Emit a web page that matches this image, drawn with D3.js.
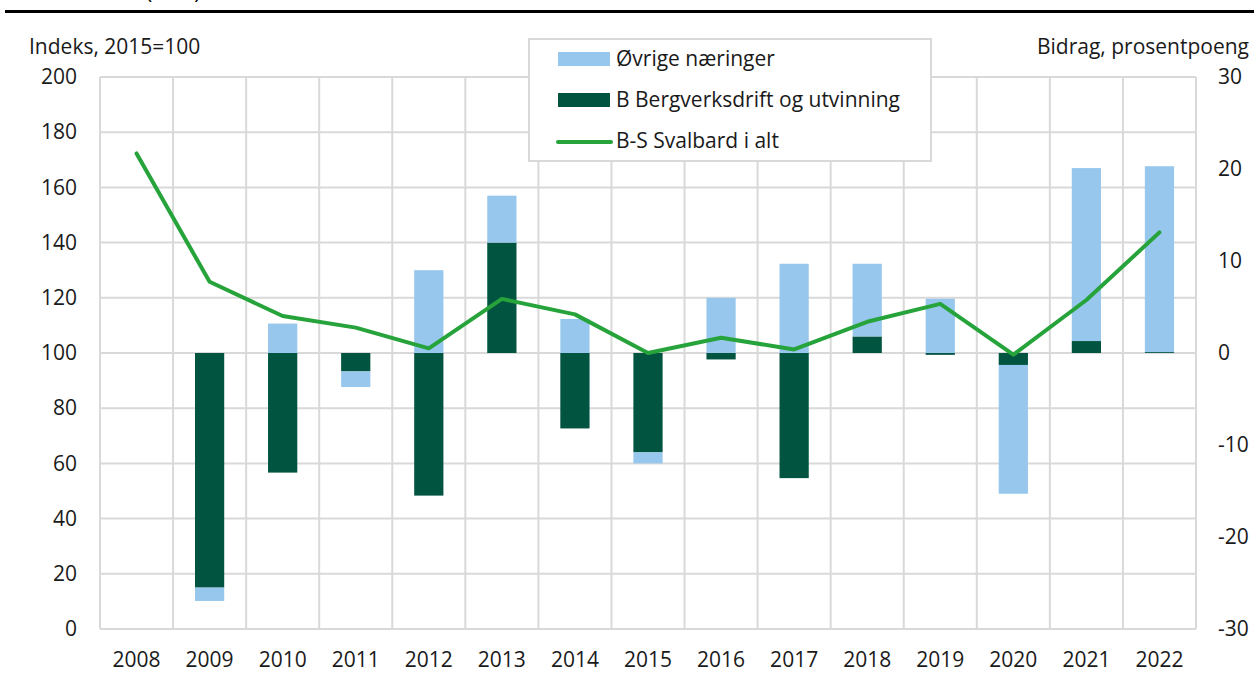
<!DOCTYPE html>
<html>
<head>
<meta charset="utf-8">
<script src="https://cdn.jsdelivr.net/npm/d3@7"></script>
<style>
  body { margin: 0; background: #fff; }
  svg { display: block; font-family: "Open Sans", "Noto Sans", sans-serif; }
</style>
</head>
<body>
<div id="chart"></div>
<script>
const years = ["2008", "2009", "2010", "2011", "2012", "2013", "2014", "2015",
  "2016", "2017", "2018", "2019", "2020", "2021", "2022"];
// bidrag, prosentpoeng (right axis)
const bergverk = [null, -25.5, -13.0, -2.0, -15.5, 12.0, -8.2, -10.8, -0.7, -13.6, 1.8, -0.2, -1.3, 1.3, 0.1];
const ovrige = [null, -1.45, 3.2, -1.7, 9.0, 5.1, 3.7, -1.2, 6.0, 9.7, 7.9, 5.9, -14.0, 18.8, 20.2];
// indeks, 2015=100 (left axis)
const svalbard = [172.3, 125.8, 113.4, 109.2, 101.7, 119.6, 114.0, 100, 105.5, 101.3, 111.3, 117.8, 99.4, 119.2, 143.7];
const leftTicks = [0, 20, 40, 60, 80, 100, 120, 140, 160, 180, 200];
const rightTicks = [-30, -20, -10, 0, 10, 20, 30];

const colLight = "#97c7ec", colDark = "#01543f", colLine = "#26a33a", colGrid = "#d9d9d9";
const fs = 21, txt = "#1a1a1a";

const W = 1254, H = 677;
const plot = { left: 100, right: 1196, top: 77, bottom: 629 };

const svg = d3.select("#chart").append("svg").attr("width", W).attr("height", H);

const xCell = d3.scaleBand().domain(years).range([plot.left, plot.right]).padding(0);
const x = d3.scaleBand().domain(years).range([plot.left, plot.right])
  .paddingInner(0.6).paddingOuter(0.3);
const yL = d3.scaleLinear().domain([0, 200]).range([plot.bottom, plot.top]);
const yR = d3.scaleLinear().domain([-30, 30]).range([plot.bottom, plot.top]);

// cut-off title and rule at the top
svg.append("text").attr("x", 146).attr("y", -1).attr("font-size", fs).text("(BNP)");
svg.append("rect").attr("x", 5).attr("y", 10).attr("width", W - 5).attr("height", 3).attr("fill", "#000");

// grid
const grid = svg.append("g");
grid.selectAll("line.h").data(leftTicks).join("line")
  .attr("x1", plot.left).attr("x2", plot.right)
  .attr("y1", d => yL(d)).attr("y2", d => yL(d))
  .attr("stroke", colGrid).attr("stroke-width", 2);
grid.selectAll("line.v").data(years.concat(["end"])).join("line")
  .attr("x1", (d, i) => plot.left + i * xCell.step()).attr("x2", (d, i) => plot.left + i * xCell.step())
  .attr("y1", plot.top).attr("y2", plot.bottom)
  .attr("stroke", colGrid).attr("stroke-width", 2);

// stacked bars (diverging)
const rows = years.map((y, i) => ({ year: y, berg: bergverk[i] ?? 0, ovr: ovrige[i] ?? 0 }));
const stack = d3.stack().keys(["berg", "ovr"]).offset(d3.stackOffsetDiverging)(rows);
const colors = { berg: colDark, ovr: colLight };
svg.append("g").selectAll("g").data(stack).join("g")
  .attr("fill", s => colors[s.key])
  .selectAll("rect").data(s => s).join("rect")
  .attr("x", d => x(d.data.year))
  .attr("width", x.bandwidth())
  .attr("y", d => yR(Math.max(d[0], d[1])))
  .attr("height", d => Math.abs(yR(d[0]) - yR(d[1])));

// line
svg.append("path").datum(svalbard)
  .attr("fill", "none").attr("stroke", colLine).attr("stroke-width", 4)
  .attr("stroke-linejoin", "round").attr("stroke-linecap", "round")
  .attr("d", d3.line().x((d, i) => xCell(years[i]) + xCell.bandwidth() / 2).y(d => yL(d)));

// axes
const axL = svg.append("g").attr("transform", `translate(${plot.left - 23},0)`)
  .call(d3.axisLeft(yL).tickValues(leftTicks).tickSize(0).tickPadding(0));
const axR = svg.append("g").attr("transform", `translate(${plot.right + 22},0)`)
  .call(d3.axisRight(yR).tickValues(rightTicks).tickSize(0).tickPadding(0));
const axB = svg.append("g").attr("transform", `translate(0,${plot.bottom + 23})`)
  .call(d3.axisBottom(xCell).tickSize(0).tickPadding(0));
[axL, axR, axB].forEach(a => {
  a.select(".domain").remove();
  a.selectAll("text").attr("font-size", fs).attr("fill", txt).attr("font-family", "Open Sans");
});
axR.selectAll("text").text(d => d < 0 ? "-" + Math.abs(d) : d);
axB.selectAll("text").attr("dy", "0.71em");

svg.append("text").attr("x", 29).attr("y", 54).attr("font-size", fs).attr("fill", txt)
  .text("Indeks, 2015=100");
svg.append("text").attr("x", 1249).attr("y", 54).attr("font-size", fs).attr("fill", txt)
  .attr("text-anchor", "end").text("Bidrag, prosentpoeng");

// legend
const legendItems = [
  { label: "Øvrige næringer", type: "rect", color: colLight },
  { label: "B Bergverksdrift og utvinning", type: "rect", color: colDark },
  { label: "B-S Svalbard i alt", type: "line", color: colLine }
];
const lg = svg.append("g").attr("transform", "translate(529,39)");
lg.append("rect").attr("width", 402).attr("height", 122)
  .attr("fill", "#fff").attr("stroke", colGrid).attr("stroke-width", 2);
const li = lg.selectAll("g").data(legendItems).join("g")
  .attr("transform", (d, i) => `translate(0,${20 + i * 41})`);
li.filter(d => d.type === "rect").append("rect")
  .attr("x", 29).attr("y", -7).attr("width", 52).attr("height", 14).attr("fill", d => d.color);
li.filter(d => d.type === "line").append("line")
  .attr("x1", 29).attr("x2", 82).attr("y1", 1).attr("y2", 1)
  .attr("stroke", d => d.color).attr("stroke-width", 4).attr("stroke-linecap", "round");
li.append("text").attr("x", 87).attr("dy", "0.35em").attr("font-size", fs).attr("fill", txt)
  .text(d => d.label);
</script>
</body>
</html>
